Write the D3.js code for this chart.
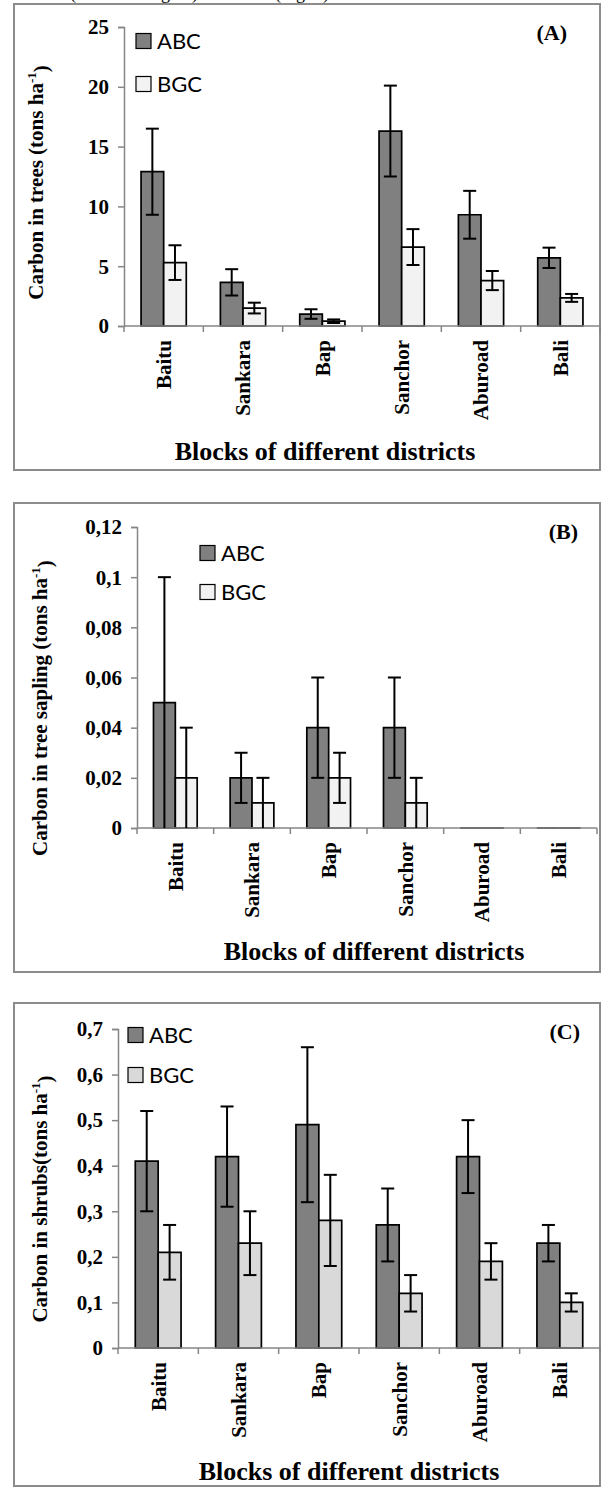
<!DOCTYPE html>
<html>
<head>
<meta charset="utf-8">
<script src="https://cdn.jsdelivr.net/npm/d3@7"></script>
<style>
  html, body { margin: 0; padding: 0; background: #fff; }
  svg { display: block; }
</style>
</head>
<body>
<script>
// ---------- data ----------
const categories = ["Baitu", "Sankara", "Bap", "Sanchor", "Aburoad", "Bali"];
const seriesNames = ["ABC", "BGC"];

const treesABC    = [12.9, 3.65, 1.0, 16.3, 9.3, 5.7];
const treesABCErr = [3.6, 1.1, 0.4, 3.8, 2.0, 0.85];
const treesBGC    = [5.3, 1.5, 0.4, 6.6, 3.8, 2.35];
const treesBGCErr = [1.45, 0.45, 0.15, 1.5, 0.8, 0.33];

const saplingABC    = [0.05, 0.02, 0.04, 0.04, 0, 0];
const saplingABCErr = [0.05, 0.01, 0.02, 0.02, 0, 0];
const saplingBGC    = [0.02, 0.01, 0.02, 0.01, 0, 0];
const saplingBGCErr = [0.02, 0.01, 0.01, 0.01, 0, 0];

const shrubABC    = [0.41, 0.42, 0.49, 0.27, 0.42, 0.23];
const shrubABCErr = [0.11, 0.11, 0.17, 0.08, 0.08, 0.04];
const shrubBGC    = [0.21, 0.23, 0.28, 0.12, 0.19, 0.10];
const shrubBGCErr = [0.06, 0.07, 0.10, 0.04, 0.04, 0.02];

const ticksA = [0, 5, 10, 15, 20, 25];
const ticksB = [0, 0.02, 0.04, 0.06, 0.08, 0.1, 0.12];
const ticksC = [0, 0.1, 0.2, 0.3, 0.4, 0.5, 0.6, 0.7];

const xTitle = "Blocks of different districts";

// ---------- layout ----------
const W = 606, H = 1488;
const serif = "'Liberation Serif','Times New Roman',serif";
const sans = "Lato,'Open Sans','Liberation Sans',sans-serif";

const svg = d3.select("body").append("svg").attr("width", W).attr("height", H);

// header text, clipped by the top edge as in the reference
svg.append("text").attr("x", 70).attr("y", -1.5)
  .attr("font-family", serif).attr("font-size", 18)
  .attr("textLength", 128).attr("lengthAdjust", "spacing")
  .text("(on the left figure)");
svg.append("text").attr("x", 275).attr("y", -1.5)
  .attr("font-family", serif).attr("font-size", 18)
  .attr("textLength", 54).attr("lengthAdjust", "spacing")
  .text("(right)");

const panels = [
  {
    frame: [14, 4, 600, 470], x0: 124, x1: 600, y0: 326, y1: 27, max: 25, ticks: ticksA,
    abc: treesABC, abcErr: treesABCErr, bgc: treesBGC, bgcErr: treesBGCErr, bgcFill: "#f2f2f2",
    yTitleMain: "Carbon in trees (tons ha", yTitlePos: [36, 182.5],
    legX: 136, legY: [41, 84], letter: "(A)", letterPos: [567, 40],
    xTitlePos: [325, 460]
  },
  {
    frame: [14, 503, 600, 972], x0: 137, x1: 597, y0: 828, y1: 527, max: 0.12, ticks: ticksB,
    abc: saplingABC, abcErr: saplingABCErr, bgc: saplingBGC, bgcErr: saplingBGCErr, bgcFill: "#f2f2f2",
    yTitleMain: "Carbon in tree sapling (tons ha", yTitlePos: [40, 708],
    legX: 200, legY: [553, 592], letter: "(B)", letterPos: [578, 539],
    xTitlePos: [374, 960]
  },
  {
    frame: [14, 1003, 600, 1486], x0: 118, x1: 600, y0: 1348, y1: 1029, max: 0.7, ticks: ticksC,
    abc: shrubABC, abcErr: shrubABCErr, bgc: shrubBGC, bgcErr: shrubBGCErr, bgcFill: "#d9d9d9",
    yTitleMain: "Carbon in shrubs(tons ha", yTitlePos: [40, 1199],
    legX: 128, legY: [1035, 1075], letter: "(C)", letterPos: [580, 1039],
    xTitlePos: [349, 1480]
  }
];

const fmt = v => String(+v.toFixed(2)).replace(".", ",");
const axisColor = "#868686";

panels.forEach(p => {
  const g = svg.append("g");
  // frame
  g.append("rect")
    .attr("x", p.frame[0]).attr("y", p.frame[1])
    .attr("width", p.frame[2] - p.frame[0]).attr("height", p.frame[3] - p.frame[1])
    .attr("fill", "none").attr("stroke", "#8c8c8c").attr("stroke-width", 2);

  const x = d3.scaleBand().domain(categories).range([p.x0, p.x1]).padding(0);
  const y = d3.scaleLinear().domain([0, p.max]).range([p.y0, p.y1]);
  const bw = x.bandwidth() * 0.285;

  const rows = categories.map((c, i) => ({
    c,
    vals: [
      { s: "ABC", v: p.abc[i], e: p.abcErr[i], fill: "#808080" },
      { s: "BGC", v: p.bgc[i], e: p.bgcErr[i], fill: p.bgcFill }
    ]
  }));

  // y axis
  const yAxis = d3.axisLeft(y).tickValues(p.ticks).tickSize(6).tickFormat(() => "");
  const ya = g.append("g").attr("transform", `translate(${p.x0},0)`).call(yAxis);
  ya.select(".domain").attr("stroke", axisColor).attr("stroke-width", 1.5);
  ya.selectAll(".tick line").attr("stroke", axisColor).attr("stroke-width", 1.5);
  g.selectAll(".ytl").data(p.ticks).enter().append("text")
    .attr("x", p.x0 - 15).attr("y", d => y(d)).attr("dy", "0.35em")
    .attr("text-anchor", "end")
    .attr("font-family", serif).attr("font-weight", "bold").attr("font-size", 21)
    .text(d => fmt(d));

  // bars
  rows.forEach(r => {
    const cx = x(r.c) + x.bandwidth() / 2;
    r.vals.forEach((d, k) => {
      const bx = k === 0 ? cx - bw : cx;
      const yt = y(d.v), yb = y(0);
      g.append("path")
        .attr("d", `M${bx},${yb}V${yt}H${bx + bw}V${yb}Z`)
        .attr("fill", d.fill).attr("stroke", "#000").attr("stroke-width", 1.7);
    });
  });

  // x axis
  g.append("line").attr("x1", p.x0).attr("x2", p.x1).attr("y1", p.y0).attr("y2", p.y0)
    .attr("stroke", axisColor).attr("stroke-width", 1.5);
  const bounds = categories.map(c => x(c)).concat([p.x1]);
  g.selectAll(".xt").data(bounds).enter().append("line")
    .attr("x1", d => d).attr("x2", d => d).attr("y1", p.y0).attr("y2", p.y0 + 6)
    .attr("stroke", axisColor).attr("stroke-width", 1.5);

  // error bars
  rows.forEach(r => {
    const cx = x(r.c) + x.bandwidth() / 2;
    r.vals.forEach((d, k) => {
      if (d.v === 0 && d.e === 0) return;
      const ex = k === 0 ? cx - bw / 2 : cx + bw / 2;
      const yh = y(d.v + d.e), yl = y(Math.max(0, d.v - d.e));
      const eg = g.append("g").attr("stroke", "#000").attr("stroke-width", 2);
      eg.append("line").attr("x1", ex).attr("x2", ex).attr("y1", yh).attr("y2", yl);
      eg.append("line").attr("x1", ex - 6.5).attr("x2", ex + 6.5).attr("y1", yh).attr("y2", yh);
      if (d.v - d.e > 0)
        eg.append("line").attr("x1", ex - 6.5).attr("x2", ex + 6.5).attr("y1", yl).attr("y2", yl);
    });
  });

  // category labels
  categories.forEach(c => {
    const cx = x(c) + x.bandwidth() / 2;
    g.append("text")
      .attr("transform", `translate(${cx},${p.y0 + 14}) rotate(-90)`)
      .attr("dy", "0.35em").attr("text-anchor", "end")
      .attr("font-family", serif).attr("font-weight", "bold").attr("font-size", 21)
      .text(c);
  });

  // y title
  const yt = g.append("text")
    .attr("transform", `translate(${p.yTitlePos[0]},${p.yTitlePos[1]}) rotate(-90)`)
    .attr("dy", "0.35em").attr("text-anchor", "middle")
    .attr("font-family", serif).attr("font-weight", "bold").attr("font-size", 21);
  yt.append("tspan").text(p.yTitleMain);
  yt.append("tspan").attr("font-size", 13).attr("dy", "-0.6em").text("-1");
  yt.append("tspan").attr("dy", "0.6em").text(")");

  // x title
  g.append("text").attr("x", p.xTitlePos[0]).attr("y", p.xTitlePos[1])
    .attr("text-anchor", "middle")
    .attr("font-family", serif).attr("font-weight", "bold").attr("font-size", 26)
    .text(xTitle);

  // panel letter
  g.append("text").attr("x", p.letterPos[0]).attr("y", p.letterPos[1])
    .attr("text-anchor", "end")
    .attr("font-family", serif).attr("font-weight", "bold").attr("font-size", 22)
    .text(p.letter);

  // legend
  const legFills = ["#808080", p.bgcFill];
  seriesNames.forEach((s, i) => {
    g.append("rect").attr("x", p.legX).attr("y", p.legY[i] - 7.5)
      .attr("width", 15).attr("height", 15)
      .attr("fill", legFills[i]).attr("stroke", "#000").attr("stroke-width", 1.2);
    g.append("text").attr("x", p.legX + 21).attr("y", p.legY[i]).attr("dy", "0.36em")
      .attr("font-family", sans).attr("font-size", 22)
      .text(s);
  });
});
</script>
</body>
</html>
